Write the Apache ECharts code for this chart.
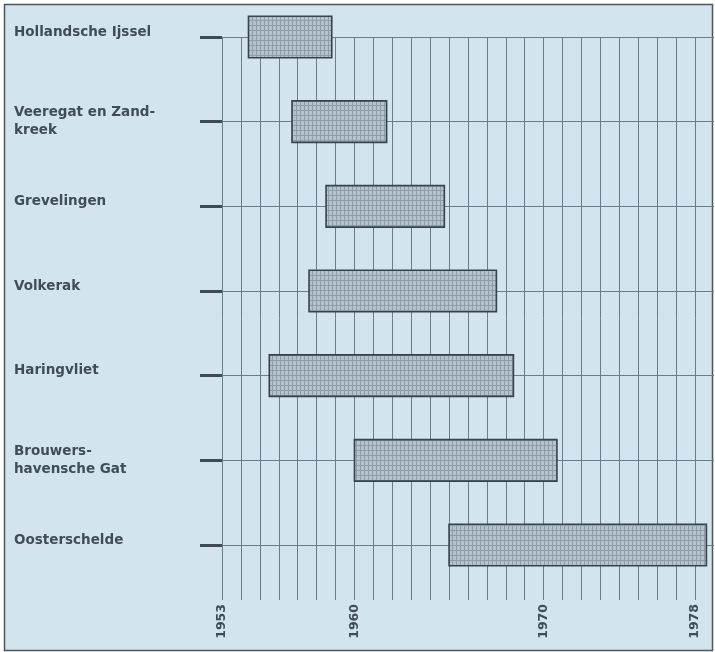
<!DOCTYPE html>
<html>
<head>
<meta charset="utf-8">
<script src="https://cdn.jsdelivr.net/npm/echarts@6/dist/echarts.min.js"></script>
<style>
  html, body { margin: 0; padding: 0; background: #ffffff; }
  #chart { width: 715px; height: 652px; }
</style>
</head>
<body>
<div id="chart"></div>
<script>
// Deltawerken - bouwperiode per afsluiting
const works = ['Hollandsche Ijssel', 'Veeregat en Zand-\nkreek', 'Grevelingen', 'Volkerak', 'Haringvliet', 'Brouwers-\nhavensche Gat', 'Oosterschelde'];
const startYear = [1954.4, 1956.7, 1958.5, 1957.6, 1955.5, 1960.0, 1965.0];
const endYear = [1958.8, 1961.7, 1964.75, 1967.5, 1968.4, 1970.7, 1978.6];
const yearLabels = [1953, 1960, 1970, 1978];

var myChart = echarts.init(document.getElementById('chart'));

// fijn rasterpatroon voor de balken
var pat = document.createElement('canvas');
pat.width = 4;
pat.height = 5;
var ctx = pat.getContext('2d');
ctx.fillStyle = '#b6c2cb';
ctx.fillRect(0, 0, 4, 5);
ctx.fillStyle = '#8f9da8';
ctx.fillRect(0, 0, 1, 5);
ctx.fillRect(0, 0, 4, 1);

var barData = works.map(function (w, i) {
  return [i, startYear[i], endYear[i]];
});

function renderItem(params, api) {
  var idx = api.value(0);
  var a = api.coord([api.value(1), idx]);
  var b = api.coord([api.value(2), idx]);
  var h = api.size([0, 1])[1] * 0.49;
  return {
    type: 'rect',
    shape: { x: a[0], y: a[1] - h / 2, width: b[0] - a[0], height: h },
    style: { fill: { image: pat, repeat: 'repeat' }, stroke: '#34434e', lineWidth: 1.6 }
  };
}

var labelFont = { fontFamily: 'DejaVu Sans', fontSize: 13.5, fontWeight: 'bold', color: '#404c57', lineHeight: 18 };

var option = {
  backgroundColor: '#ffffff',
  animation: false,
  graphic: [{
    type: 'rect',
    z: -10,
    shape: { x: 4.5, y: 4.5, width: 708, height: 646 },
    style: { fill: '#d4e4ef', stroke: '#505558', lineWidth: 1.5 }
  }],
  grid: [
    // rijen + balken
    { left: 222, right: 1, top: 37, bottom: 652 - 545 },
    // jaarlijnen
    { left: 222, right: 20, top: 37, bottom: 52 }
  ],
  xAxis: [
    {
      gridIndex: 0, type: 'value', min: 1953, max: 1979,
      axisLine: { show: false }, axisTick: { show: false },
      axisLabel: { show: false }, splitLine: { show: false }
    },
    {
      gridIndex: 1, type: 'value', min: 1953, max: 1978, interval: 1,
      axisLine: { show: false }, axisTick: { show: false },
      splitLine: { show: true, lineStyle: { color: '#6a7d8a', width: 1 } },
      axisLabel: {
        rotate: 90,
        margin: 4,
        fontFamily: 'DejaVu Sans',
        fontSize: 12.5,
        fontWeight: 'bold',
        color: '#404c57',
        formatter: function (v) {
          return yearLabels.indexOf(v) >= 0 ? String(v) : '';
        }
      }
    }
  ],
  yAxis: [
    {
      gridIndex: 0, type: 'value', inverse: true, min: 0, max: works.length - 1, interval: 1,
      axisLine: { show: false },
      axisTick: { show: true, length: 22, lineStyle: { color: '#3e4b55', width: 3 } },
      splitLine: { show: true, lineStyle: { color: '#6a7d8a', width: 1 } },
      axisLabel: {
        align: 'left',
        margin: 208,
        fontFamily: 'DejaVu Sans',
        fontSize: 13.5,
        fontWeight: 'bold',
        color: '#404c57',
        formatter: function (v) {
          var name = works[v];
          if (name === undefined) return '';
          return name.indexOf('\n') >= 0 ? '{d|' + name.replace('\n', '}\n{d|') + '}' : '{s|' + name + '}';
        },
        rich: {
          s: Object.assign({ padding: [0, 0, 10, 0] }, labelFont),
          d: labelFont
        }
      }
    },
    {
      gridIndex: 1, type: 'value', min: 0, max: 1,
      show: false
    }
  ],
  series: [{
    type: 'custom',
    xAxisIndex: 0,
    yAxisIndex: 0,
    renderItem: renderItem,
    encode: { x: [1, 2], y: 0 },
    data: barData
  }]
};

option && myChart.setOption(option);
</script>
</body>
</html>
